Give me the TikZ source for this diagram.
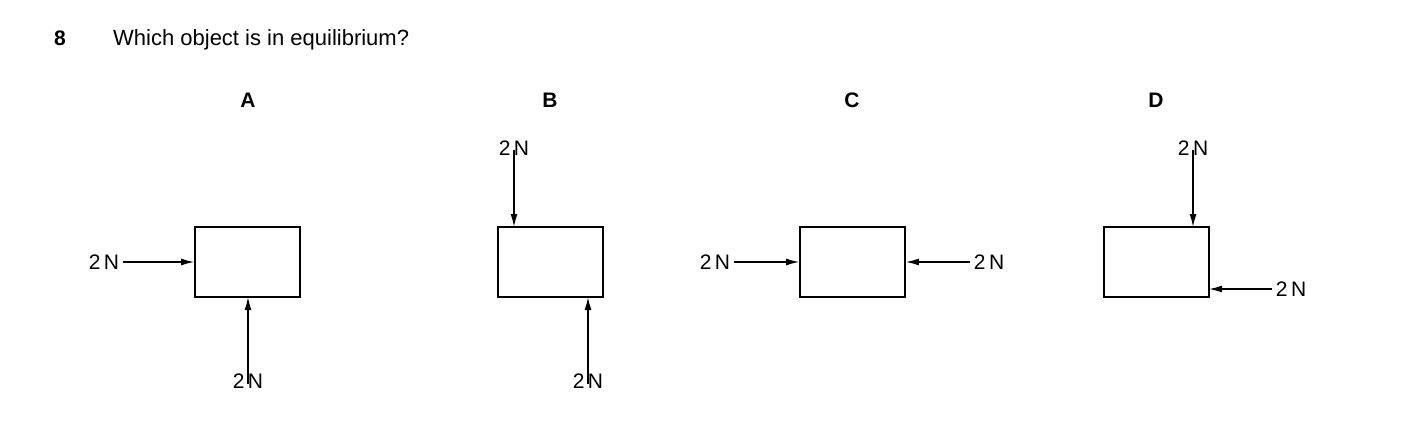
\documentclass[tikz,border=0pt]{standalone}
\usepackage{fontspec}
\setmainfont{Liberation Sans}
\usetikzlibrary{arrows.meta}
\begin{document}
\begin{tikzpicture}[x=1pt,y=-1pt,
  box/.style={draw,line width=1.6pt,minimum width=105pt,minimum height=70pt,inner sep=0pt},
  force/.style={line width=1.5pt,-{Latex[length=13pt,width=7pt]}},
  lab/.style={font=\fontsize{21}{24}\selectfont,inner sep=0pt},
  head/.style={font=\bfseries\fontsize{21}{24}\selectfont,inner sep=0pt}]
\useasboundingbox (0,0) rectangle (1403,442);
\node[head,anchor=base west] (num) at (54,45) {8};
\node[lab,anchor=base west,font=\fontsize{22}{26}\selectfont] (q) at (113,45) {Which object is in equilibrium?};
\node[head] (hA) at (248,100) {A};
\node[head] (hB) at (550,100) {B};
\node[head] (hC) at (852,100) {C};
\node[head] (hD) at (1156,100) {D};
% A
\node[box] (bA) at (247.5,262) {};
\node[lab] (lA1) at (104,262) {2\,N};
\draw[force] (lA1.east) ++(4,0) coordinate (sA1) -- (bA.west);
\node[lab] (lA2) at (248,381) {2\,N};
\draw[force] ([yshift=-11pt]lA2.north) -- (248,297);
% B
\node[box] (bB) at (550.5,262) {};
\node[lab] (lB1) at (514,148) {2\,N};
\draw[force] ([yshift=6pt]lB1.south) -- (514,227);
\node[lab] (lB2) at (588,381) {2\,N};
\draw[force] ([yshift=-11pt]lB2.north) -- (588,297);
% C
\node[box] (bC) at (852.5,262) {};
\node[lab] (lC1) at (715,262) {2\,N};
\draw[force] ([xshift=4pt]lC1.east) -- (bC.west);
\node[lab] (lC2) at (989,262) {2\,N};
\draw[force] ([xshift=-4pt]lC2.west) -- (bC.east);
% D
\node[box] (bD) at (1156.5,262) {};
\node[lab] (lD1) at (1193,148) {2\,N};
\draw[force] ([yshift=6pt]lD1.south) -- (1193,227);
\node[lab] (lD2) at (1291,289) {2\,N};
\draw[force] ([xshift=-4pt]lD2.west) -- (1209,289);
\end{tikzpicture}
\end{document}
